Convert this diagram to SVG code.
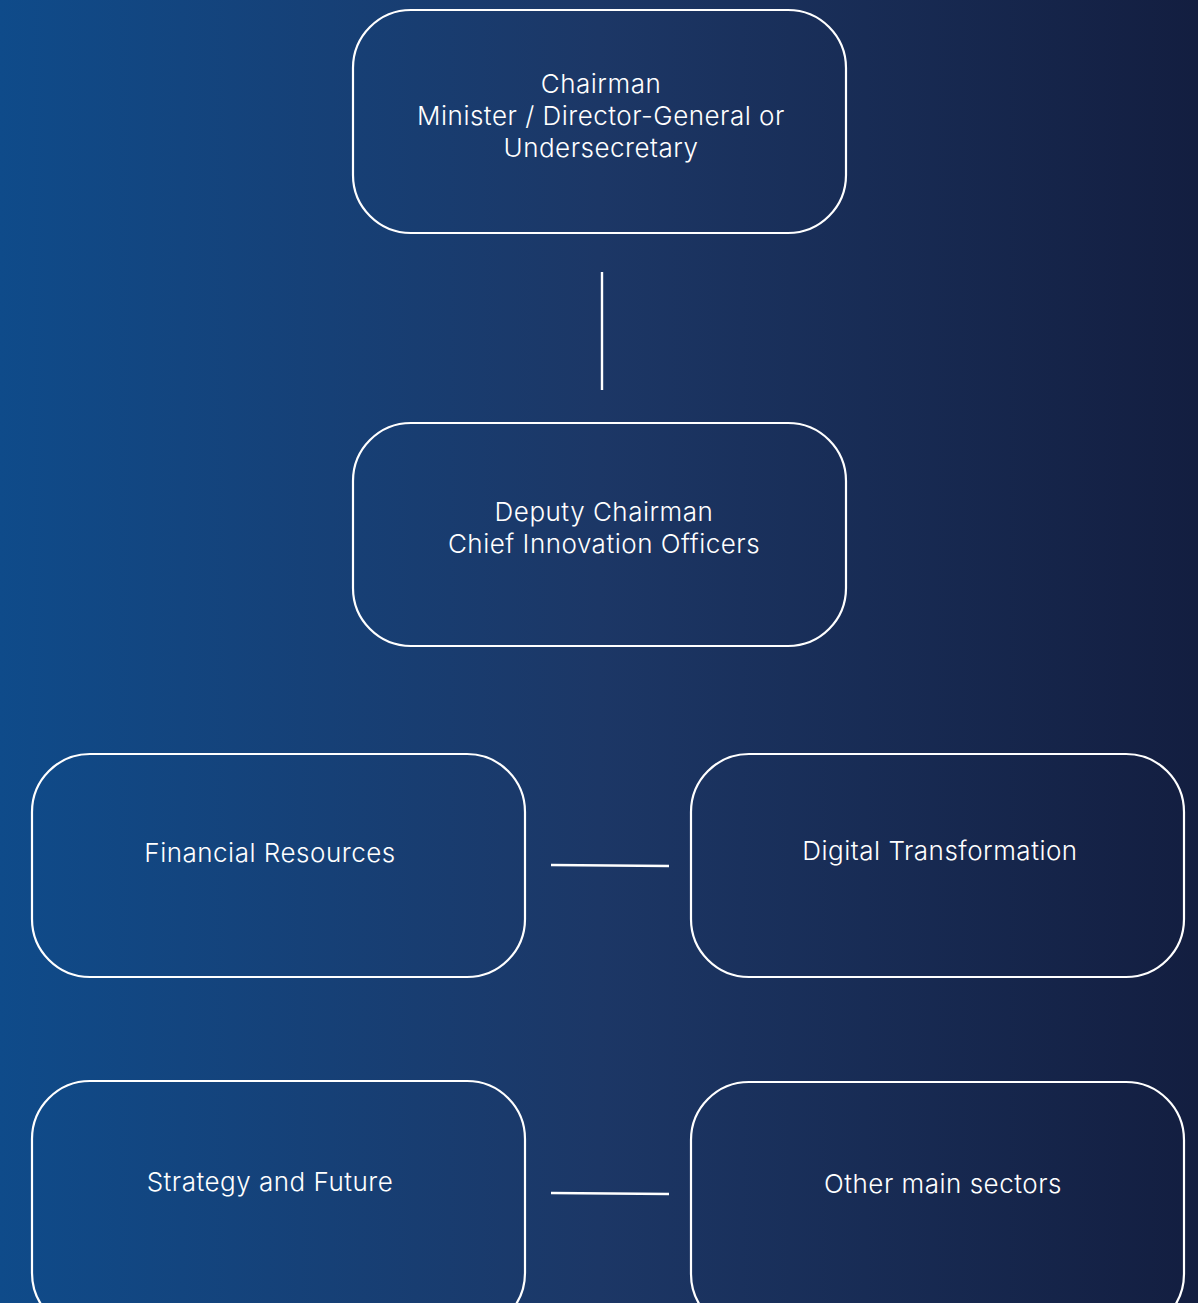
<svg xmlns="http://www.w3.org/2000/svg" width="1198" height="1303" viewBox="0 0 1198 1303">
<style>
.box{fill:none;stroke:#fff;stroke-width:2.2}
.lbl{font-family:Inter,"Liberation Sans",sans-serif;font-size:26px;font-weight:300;letter-spacing:0.5px;fill:#fff;text-anchor:middle}
.con{stroke:#fff;stroke-width:2.4;fill:none}
</style>
<defs>
<linearGradient id="bg" x1="0" y1="0" x2="1" y2="0">
<stop offset="0" stop-color="#0f4b8a"/>
<stop offset="0.5" stop-color="#1c3766"/>
<stop offset="1" stop-color="#131e40"/>
</linearGradient>
</defs>
<rect width="1198" height="1303" fill="url(#bg)"/>
<g id="connectors">
<line class="con" x1="602" y1="272" x2="602" y2="390"/>
<line class="con" x1="551" y1="865" x2="669" y2="866"/>
<line class="con" x1="551" y1="1193" x2="669" y2="1194"/>
</g>
<g id="chairman">
<rect class="box" x="353" y="10" width="493" height="223" rx="58"/>
<text class="lbl" x="601" y="93">Chairman</text>
<text class="lbl" x="601" y="125">Minister / Director-General or</text>
<text class="lbl" x="601" y="157">Undersecretary</text>
</g>
<g id="deputy">
<rect class="box" x="353" y="423" width="493" height="223" rx="58"/>
<text class="lbl" x="604" y="521">Deputy Chairman</text>
<text class="lbl" x="604" y="553">Chief Innovation Officers</text>
</g>
<g id="financial">
<rect class="box" x="32" y="754" width="493" height="223" rx="58"/>
<text class="lbl" x="270" y="862">Financial Resources</text>
</g>
<g id="digital">
<rect class="box" x="691" y="754" width="493" height="223" rx="58"/>
<text class="lbl" x="940" y="860">Digital Transformation</text>
</g>
<g id="strategy">
<rect class="box" x="32" y="1081" width="493" height="250" rx="58"/>
<text class="lbl" x="270" y="1191">Strategy and Future</text>
</g>
<g id="other">
<rect class="box" x="691" y="1082" width="493" height="250" rx="58"/>
<text class="lbl" x="943" y="1193">Other main sectors</text>
</g>
</svg>
